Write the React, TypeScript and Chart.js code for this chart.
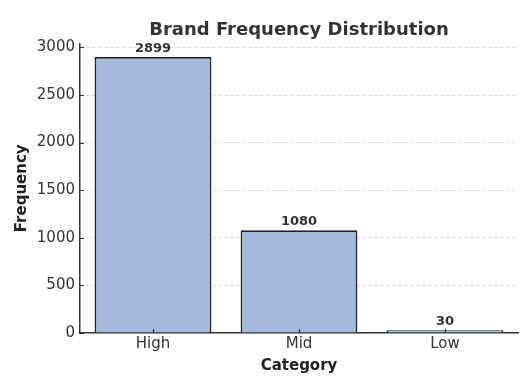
import React, { useEffect, useRef } from "react";
import { Chart, registerables } from "chart.js";

Chart.register(...registerables);

const categories = ["High", "Mid", "Low"];
const frequencies = [2899, 1080, 30];
const yTickValues = [0, 500, 1000, 1500, 2000, 2500, 3000];
const yMax = 3040;

const FONT = "'DejaVu Sans', sans-serif";

export default function App() {
  const ref = useRef<HTMLCanvasElement>(null);

  useEffect(() => {
    if (!ref.current) return;

    const valueLabels = {
      id: "valueLabels",
      afterDatasetsDraw(chart: any) {
        const ctx = chart.ctx;
        const meta = chart.getDatasetMeta(0);
        ctx.save();
        ctx.font = `bold 13px ${FONT}`;
        ctx.fillStyle = "#333";
        ctx.textAlign = "center";
        ctx.textBaseline = "alphabetic";
        meta.data.forEach((el: any, i: number) => {
          ctx.fillText(String(frequencies[i]), el.x, el.y - 5);
        });
        ctx.restore();
      },
    };

    const innerTicks = {
      id: "innerTicks",
      afterDraw(chart: any) {
        const { ctx, chartArea, scales } = chart;
        ctx.save();
        ctx.strokeStyle = "#333";
        ctx.lineWidth = 1.2;
        ctx.beginPath();
        scales.y.ticks.forEach((t: any) => {
          const y = Math.round(scales.y.getPixelForValue(t.value)) + 0.5;
          ctx.moveTo(chartArea.left, y);
          ctx.lineTo(chartArea.left + 4, y);
        });
        categories.forEach((_c, i) => {
          const x = Math.round(scales.x.getPixelForValue(i)) + 0.5;
          ctx.moveTo(x, chartArea.bottom);
          ctx.lineTo(x, chartArea.bottom - 4);
        });
        ctx.stroke();
        ctx.restore();
      },
    };

    const chart = new Chart(ref.current, {
      type: "bar",
      data: {
        labels: categories,
        datasets: [
          {
            data: frequencies,
            backgroundColor: "rgb(163,187,221)",
            borderColor: "#222",
            borderWidth: 1.8,
            barPercentage: 0.8,
            categoryPercentage: 1,
          },
        ],
      },
      options: {
        responsive: false,
        animation: false,
        layout: { padding: { left: 0, right: 6, top: 0, bottom: 0 } },
        plugins: {
          legend: { display: false },
          tooltip: { enabled: false },
          title: {
            display: true,
            text: "Brand Frequency Distribution",
            fullSize: false,
            color: "#333",
            font: { family: FONT, size: 18, weight: "bold" },
            padding: { top: 20, bottom: 2 },
          },
        },
        scales: {
          x: {
            type: "category",
            offset: true,
            grid: { display: false, drawTicks: false },
            border: { display: true, color: "#333", width: 1.5 },
            ticks: { color: "#333", font: { family: FONT, size: 15 }, padding: 2 },
            title: {
              display: true,
              text: "Category",
              color: "#222",
              font: { family: FONT, size: 15, weight: "bold" },
              padding: { top: 0, bottom: 13 },
            },
            afterFit(s: any) {
              s.height = 55;
            },
          },
          y: {
            min: 0,
            max: yMax,
            afterBuildTicks(s: any) {
              s.ticks = yTickValues.map((v) => ({ value: v }));
            },
            grid: {
              drawTicks: false,
              lineWidth: 0.8,
              color: (c: any) => (c.tick && c.tick.value === 0 ? "rgba(0,0,0,0)" : "#cccccc"),
            },
            border: { display: true, color: "#333", width: 1.5, dash: [3, 3] },
            ticks: {
              color: "#333",
              font: { family: FONT, size: 15 },
              padding: 5,
              callback: (v: any) => String(v),
            },
            title: {
              display: true,
              text: "Frequency",
              color: "#222",
              font: { family: FONT, size: 15, weight: "bold" },
              padding: { top: 13, bottom: 0 },
            },
            afterFit(s: any) {
              s.width = 80;
            },
          },
        },
      },
      plugins: [valueLabels, innerTicks],
    } as any);

    return () => chart.destroy();
  }, []);

  return (
    <div style={{ position: "fixed", left: 0, top: 0, width: 524, height: 388 }}>
      <canvas ref={ref} width={524} height={388} style={{ display: "block" }} />
    </div>
  );
}
